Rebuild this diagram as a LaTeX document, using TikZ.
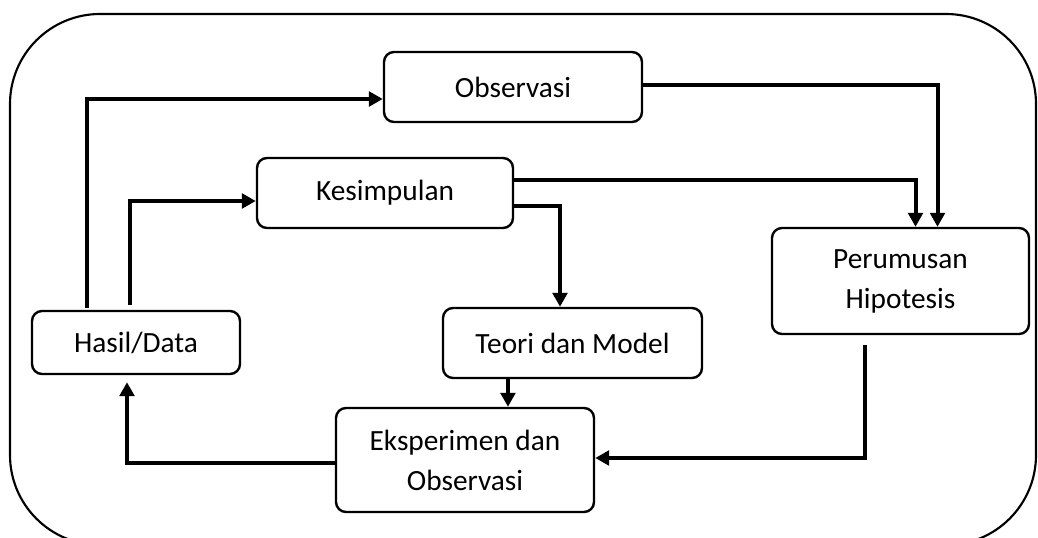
\documentclass[tikz,border=0pt]{standalone}
\usepackage{fontspec}
\setmainfont{Carlito}
\usepackage{tikz}
\usetikzlibrary{arrows.meta, positioning}

\begin{document}
\begin{tikzpicture}[
    x=0.75pt, y=-0.75pt,
    every node/.style={font=\fontsize{22}{30}\selectfont},
    stepbox/.style={rectangle, rounded corners=7.5pt, draw=black, line width=1.8pt, inner sep=0pt, align=center},
    conn/.style={line width=3pt, -{Triangle[length=10.5pt, width=11pt]}},
    frame/.style={line width=1.6pt, rounded corners=67.5pt},
]
\useasboundingbox (0,0) rectangle (1038,538);
% outer frame
\draw[frame] (10,14) rectangle (1036,545);
\node[stepbox, minimum width=193.5pt, minimum height=52.5pt] (obs) at (513,87) {Observasi};
\node[stepbox, minimum width=192pt, minimum height=52.5pt] (kes) at (385,193) {Kesimpulan};
\node[stepbox, minimum width=192.75pt, minimum height=79.5pt] (hip) at (900.5,281) {Perumusan\\Hipotesis};
\node[stepbox, minimum width=156pt, minimum height=47.25pt] (hasil) at (136,342.5) {Hasil/Data};
\node[stepbox, minimum width=194.25pt, minimum height=52.5pt] (teori) at (572.5,343) {Teori dan Model};
\node[stepbox, minimum width=193.5pt, minimum height=78pt] (eks) at (465,460) {Eksperimen dan\\Observasi};
% connectors
\draw[conn] ([xshift=-36.75pt, yshift=1.5pt]hasil.north) |- ([yshift=-9pt]obs.west);
\draw[conn] ([xshift=-4.5pt, yshift=3.75pt]hasil.north) |- ([yshift=-6pt]kes.west);
\draw[conn] ([yshift=1.5pt]obs.east) -| ([xshift=27.75pt]hip.north);
\draw[conn] ([yshift=9.75pt]kes.east) -| ([xshift=11.25pt]hip.north);
\draw[conn] ([yshift=-9.75pt]kes.east) -| ([xshift=-9.375pt]teori.north);
\draw[conn] ([xshift=-48.4pt]teori.south) -- ([xshift=-48.4pt]teori.south |- eks.north);
\draw[conn] ([xshift=-27pt, yshift=-7.5pt]hip.south) |- ([yshift=1.5pt]eks.east);
\draw[conn] ([yshift=-2.25pt]eks.west) -| ([xshift=-6.75pt, yshift=-5.25pt]hasil.south);
\end{tikzpicture}
\end{document}
